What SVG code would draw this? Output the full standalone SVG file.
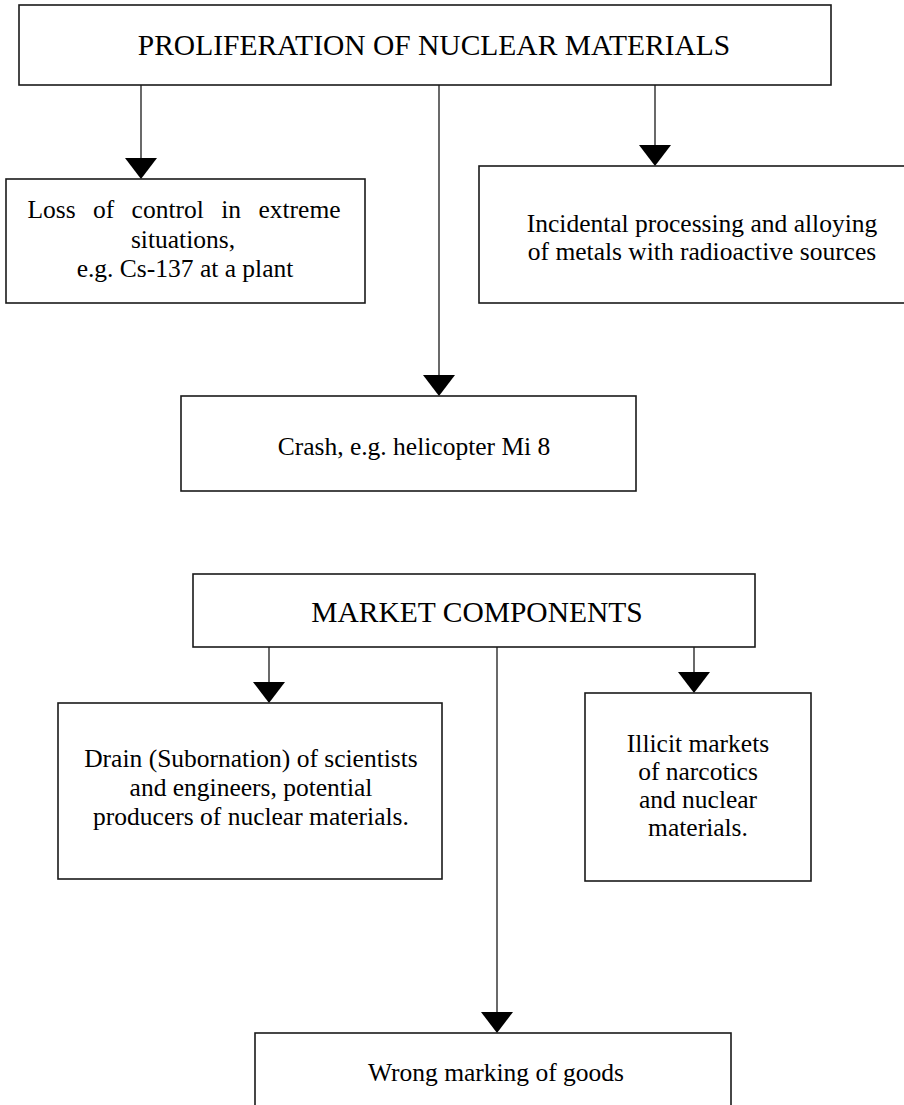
<svg xmlns="http://www.w3.org/2000/svg" width="904" height="1105" viewBox="0 0 904 1105">
  <style>
    .box { fill: #ffffff; stroke: #1a1a1a; stroke-width: 1.6; }
    .wire { fill: none; stroke: #1a1a1a; stroke-width: 1.3; }
    .head { fill: #000000; }
    text { font-family: "Liberation Serif", "Times New Roman", serif; fill: #000000; text-anchor: middle; }
    .title { font-size: 29.5px; }
    .body { font-size: 25.5px; }
  </style>
  <defs>
    <!-- downward solid arrowhead, tip at origin -->
    <polygon id="ah" points="-16,-21 16,-21 0,0"/>
  </defs>
  <rect width="904" height="1105" fill="#ffffff"/>

  <!-- connectors -->
  <g id="connectors">
    <line class="wire" x1="141" y1="85" x2="141" y2="162"/>
    <use href="#ah" class="head" x="141" y="179"/>
    <line class="wire" x1="439" y1="85" x2="439" y2="380"/>
    <use href="#ah" class="head" x="439" y="396"/>
    <line class="wire" x1="655" y1="85" x2="655" y2="150"/>
    <use href="#ah" class="head" x="655" y="166"/>

    <line class="wire" x1="269" y1="647" x2="269" y2="686"/>
    <use href="#ah" class="head" x="269" y="703"/>
    <line class="wire" x1="497" y1="647" x2="497" y2="1016"/>
    <use href="#ah" class="head" x="497" y="1033"/>
    <line class="wire" x1="694" y1="647" x2="694" y2="676"/>
    <use href="#ah" class="head" x="694" y="693"/>
  </g>

  <g id="proliferation">
    <rect class="box" x="19" y="5" width="812" height="80"/>
    <text class="title" x="434" y="55">PROLIFERATION OF NUCLEAR MATERIALS</text>
  </g>

  <g id="loss-of-control">
    <rect class="box" x="6" y="179" width="359" height="124"/>
    <text class="body" x="184" y="218" font-size="25" word-spacing="11">Loss of control in extreme</text>
    <text class="body" x="183" y="248" font-size="25">situations,</text>
    <text class="body" x="185" y="277" font-size="25">e.g. Cs-137 at a plant</text>
  </g>

  <g id="incidental-processing">
    <rect class="box" x="479" y="166" width="440" height="137"/>
    <text class="body" x="702" y="232">Incidental processing and alloying</text>
    <text class="body" x="702" y="260">of metals with radioactive sources</text>
  </g>

  <g id="crash">
    <rect class="box" x="181" y="396" width="455" height="95"/>
    <text class="body" x="414" y="455">Crash, e.g. helicopter Mi 8</text>
  </g>

  <g id="market-components">
    <rect class="box" x="193" y="574" width="562" height="73"/>
    <text class="title" x="477" y="622" font-size="28.5">MARKET COMPONENTS</text>
  </g>

  <g id="drain">
    <rect class="box" x="58" y="703" width="384" height="176"/>
    <text class="body" x="251" y="767" font-size="25">Drain (Subornation) of scientists</text>
    <text class="body" x="251" y="796" font-size="25">and engineers, potential</text>
    <text class="body" x="251" y="825" font-size="25">producers of nuclear materials.</text>
  </g>

  <g id="illicit-markets">
    <rect class="box" x="585" y="693" width="226" height="188"/>
    <text class="body" x="698" y="752" font-size="24">Illicit markets</text>
    <text class="body" x="698" y="780" font-size="24">of narcotics</text>
    <text class="body" x="698" y="808" font-size="24">and nuclear</text>
    <text class="body" x="698" y="836" font-size="24">materials.</text>
  </g>

  <g id="wrong-marking">
    <rect class="box" x="255" y="1033" width="476" height="90"/>
    <text class="body" x="496" y="1081">Wrong marking of goods</text>
  </g>
</svg>
